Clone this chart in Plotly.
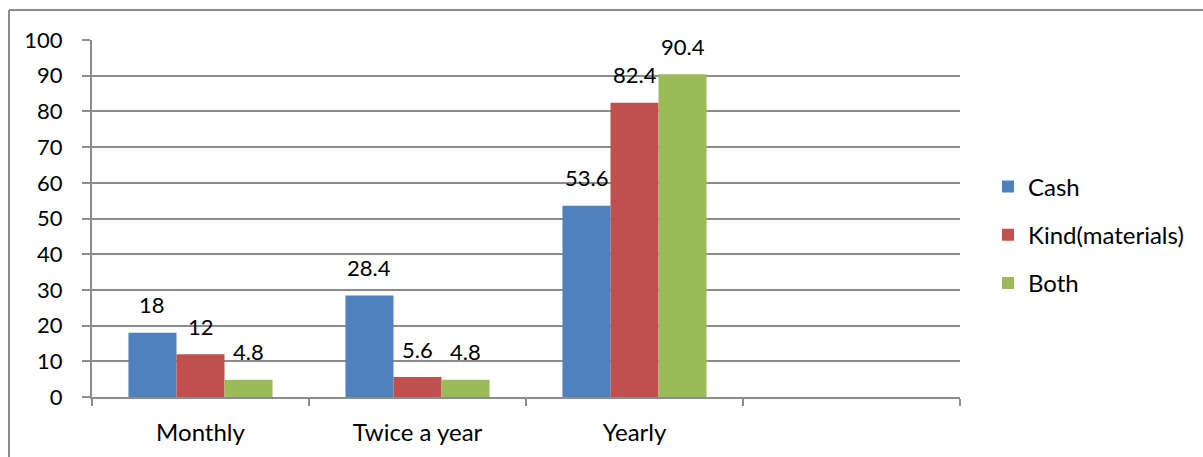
import plotly.graph_objects as go

categories = ["Monthly", "Twice a year", "Yearly", " "]
series_names = ["Cash", "Kind(materials)", "Both"]
cash = [18, 28.4, 53.6]
kind = [12, 5.6, 82.4]
both = [4.8, 4.8, 90.4]
colors = ["#4F81BD", "#C0504D", "#9BBB59"]

FONT = "Lato"
FS_NUM = 22
FS_TXT = 24
W, H = 1203, 457
ml, mr, mt, mb = 92, 243, 40, 60
pw, ph = W - ml - mr, H - mt - mb

fig = go.Figure()
all_vals = [cash, kind, both]
for i, (name, vals) in enumerate(zip(series_names, all_vals)):
    fig.add_trace(go.Bar(
        x=categories[:len(vals)], y=vals, name=name,
        marker=dict(color=colors[i], line=dict(width=0)),
        legendgroup=name,
    ))

bar_px = pw / len(categories) * (1 - 0.336) / 3
annotations = []
for i, vals in enumerate(all_vals):
    for c, v in zip(categories, vals):
        annotations.append(dict(
            x=c, y=v, xref="x", yref="y", text=f"{v:g}", showarrow=False,
            xshift=(i - 1) * bar_px, yshift=28, yanchor="middle",
            font=dict(family=FONT, size=FS_NUM, color="black"),
        ))

def px_x(p):
    return (p - ml) / pw

def px_y(p):
    return (H - mb - p) / ph

fig.add_shape(type="line", xref="paper", yref="paper",
              x0=px_x(9), x1=px_x(1215), y0=px_y(10), y1=px_y(10),
              line=dict(color="#8c8c8c", width=2))
fig.add_shape(type="line", xref="paper", yref="paper",
              x0=px_x(9), x1=px_x(9), y0=px_y(10), y1=px_y(470),
              line=dict(color="#8c8c8c", width=2))

fig.update_layout(
    width=W, height=H,
    margin=dict(l=ml, r=mr, t=mt, b=mb),
    paper_bgcolor="white", plot_bgcolor="white",
    barmode="group", bargap=0.336, bargroupgap=0,
    font=dict(family=FONT, size=FS_NUM, color="black"),
    annotations=annotations,
    legend=dict(x=px_x(988), y=px_y(235), xanchor="left", yanchor="middle",
                font=dict(family=FONT, size=FS_TXT, color="black"),
                tracegroupgap=14, bgcolor="rgba(0,0,0,0)"),
    xaxis=dict(type="category", categoryorder="array", categoryarray=categories,
               range=[-0.5, len(categories) - 0.5], tickson="boundaries",
               ticks="outside", ticklen=7, tickcolor="#8c8c8c", tickwidth=2,
               tickfont=dict(family=FONT, size=FS_TXT, color="black"),
               showline=True, linecolor="#8c8c8c", linewidth=2,
               showgrid=False, ticklabelstandoff=13, fixedrange=True),
    yaxis=dict(range=[0, 100], dtick=10, ticks="outside", ticklen=8,
               tickcolor="#8c8c8c", tickwidth=2,
               tickfont=dict(family=FONT, size=FS_NUM, color="black"),
               showline=True, linecolor="#8c8c8c", linewidth=2,
               showgrid=True, gridcolor="#8c8c8c", gridwidth=2,
               zeroline=False, ticklabelstandoff=15, fixedrange=True),
)

fig.write_html("out.html")
